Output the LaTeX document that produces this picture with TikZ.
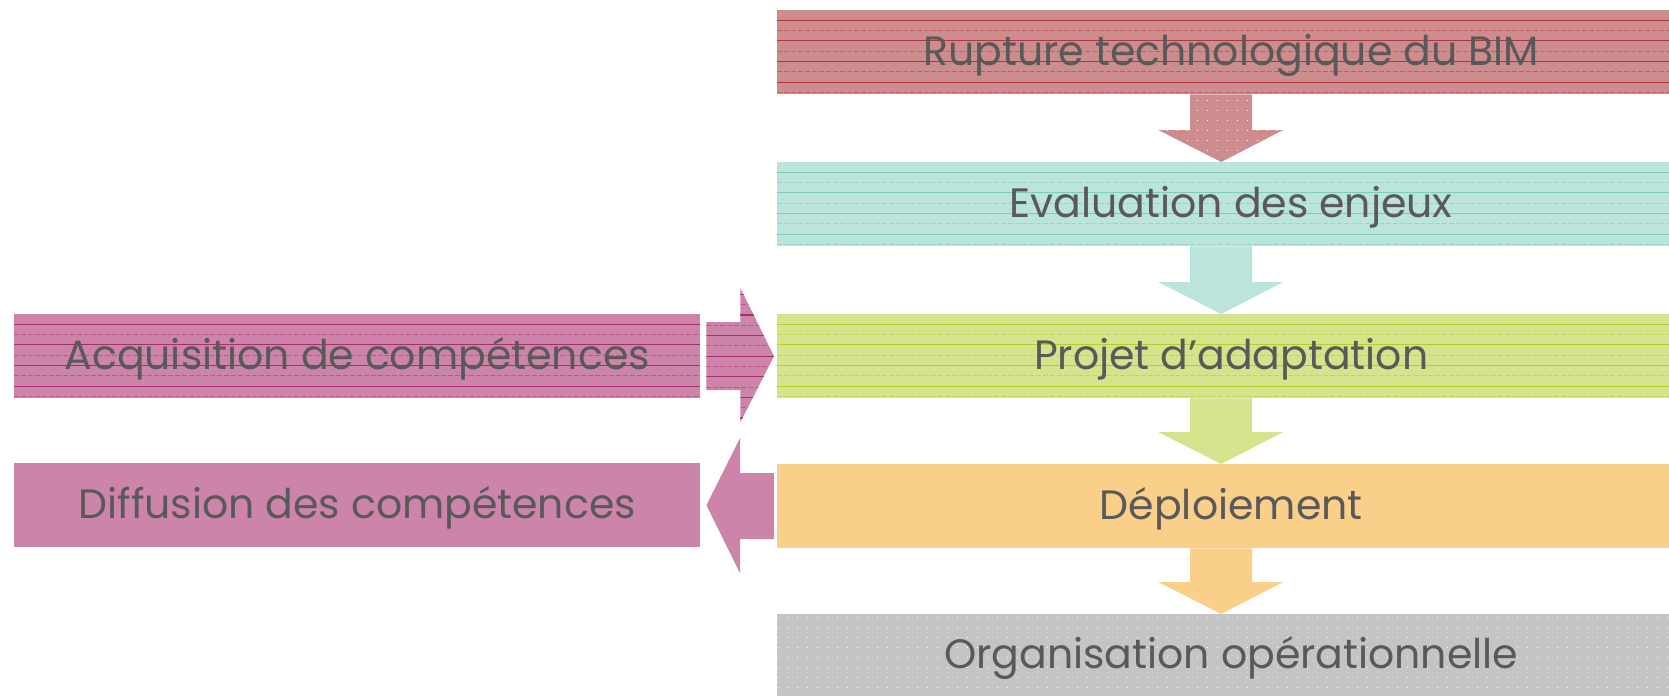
\documentclass[tikz,border=0pt]{standalone}
\usepackage{fontspec}
\setmainfont{Poppins}
\usetikzlibrary{calc}
\definecolor{txt}{HTML}{595959}
\definecolor{redf}{HTML}{CD8C8E}
\definecolor{redl}{HTML}{B23440}
\definecolor{tealf}{HTML}{BAE4DC}
\definecolor{teall}{HTML}{7FCDB9}
\definecolor{limef}{HTML}{D5E38C}
\definecolor{limel}{HTML}{B3CE28}
\definecolor{orf}{HTML}{F9CF8A}
\definecolor{grf}{HTML}{C4C4C4}
\definecolor{pinkf}{HTML}{CD84AA}
\definecolor{pinkl}{HTML}{A82E6C}
\tikzset{
  stagebox/.style={fill=#1, draw=none, minimum height=84pt, inner sep=0pt, anchor=north west},
  rightbox/.style={stagebox=#1, minimum width=892pt},
  leftbox/.style={stagebox=#1, minimum width=686pt},
  label text/.style={text=txt, font=\fontsize{41}{46}\selectfont},
  hline/.style={#1, line width=1.1pt},
  dline/.style={#1!80, line width=1.1pt, dash pattern=on 5pt off 2pt},
  dotrow/.style={white, line width=0.8pt, dash pattern=on 1pt off 9pt},
}
% horizontal line hatching inside a node
\newcommand{\hatchnode}[2]{%
  \begin{scope}
    \clip (#1.north west) rectangle (#1.south east);
    \foreach \k in {1,...,8}{
      \ifodd\k
        \draw[hline=#2] ($(#1.north west)+(0,10.3*\k)$) -- ($(#1.north east)+(0,10.3*\k)$);
      \else
        \draw[dline=#2] ($(#1.north west)+(0,10.3*\k)$) -- ($(#1.north east)+(0,10.3*\k)$);
      \fi
    }
  \end{scope}}
% outline of a block arrow pointing down from node a to node b
\newcommand{\downpath}[2]{($(#1.south)+(-33,0)$) -- ($(#1.south)+(29,0)$) -- ($(#2.north)+(29,-32)$)
    -- ($(#2.north)+(60,-32)$) -- ($(#2.north)+(-2,0)$) -- ($(#2.north)+(-65,-32)$)
    -- ($(#2.north)+(-33,-32)$) -- cycle}
\newcommand{\downblock}[3]{\fill[#3] \downpath{#1}{#2};}
\begin{document}
\begin{tikzpicture}[x=1pt,y=-1pt]
\useasboundingbox (0,0) rectangle (1669,696);
% right column
\node[rightbox=redf]   (r1) at (777,10)  {};
\node[rightbox=tealf]  (r2) at (777,162) {};
\node[rightbox=limef]  (r3) at (777,314) {};
\node[rightbox=orf]    (r4) at (777,464) {};
\node[rightbox=grf, minimum height=82pt] (r5) at (777,614) {};
% left column
\node[leftbox=pinkf] (l1) at (14,314) {};
\node[leftbox=pinkf] (l2) at (14,463) {};
\hatchnode{r1}{redl}
\hatchnode{r2}{teall}
\hatchnode{r3}{limel}
\hatchnode{l1}{pinkl}
% dots on grey box
\begin{scope}
  \clip (r5.north west) rectangle (r5.south east);
  \foreach \j in {0,...,8}{
    \draw[dotrow] ($(r5.north west)+(0,3+10*\j)$) -- ($(r5.north east)+(0,3+10*\j)$);
  }
\end{scope}
% down arrows
\downblock{r1}{r2}{redf}
\downblock{r2}{r3}{tealf}
\downblock{r3}{r4}{limef}
\downblock{r4}{r5}{orf}
% dots on red arrow
\begin{scope}
  \clip \downpath{r1}{r2};
  \foreach \j in {0,...,6}{
    \draw[dotrow] ($(r1.south west)+(0,6+10*\j)$) -- ($(r1.south east)+(0,6+10*\j)$);
  }
\end{scope}
% right arrow l1 -> r3
\fill[pinkf] ($(l1.east)+(6,-34)$) -- ($(l1.east)+(40,-34)$) -- ($(l1.east)+(40,-68)$)
  -- ($(r3.west)+(-3,0)$) -- ($(l1.east)+(40,66)$) -- ($(l1.east)+(40,34)$)
  -- ($(l1.east)+(6,34)$) -- cycle;
\begin{scope}
  \clip ($(l1.east)+(6,-34)$) -- ($(l1.east)+(40,-34)$) -- ($(l1.east)+(40,-68)$)
  -- ($(r3.west)+(-3,0)$) -- ($(l1.east)+(40,66)$) -- ($(l1.east)+(40,34)$)
  -- ($(l1.east)+(6,34)$) -- cycle;
  \foreach \k in {-6,...,6}{
    \ifodd\k
      \draw[dline=pinkl] ($(l1.east)+(6,10.3*\k)$) -- ($(r3.west)+(0,10.3*\k)$);
    \else
      \draw[hline=pinkl] ($(l1.east)+(6,10.3*\k)$) -- ($(r3.west)+(0,10.3*\k)$);
    \fi
  }
\end{scope}
% left arrow r4 -> l2
\fill[pinkf] ($(r4.west)+(-3,-33)$) -- ($(r4.west)+(-37,-33)$) -- ($(r4.west)+(-37,-68)$)
  -- ($(l2.east)+(6,0)$) -- ($(r4.west)+(-37,67)$) -- ($(r4.west)+(-37,33)$)
  -- ($(r4.west)+(-3,33)$) -- cycle;
% texts
\node[label text] at ($(r1.center)+(8,3)$) {Rupture technologique du BIM};
\node[label text] at ($(r2.center)+(8,3)$) {Evaluation des enjeux};
\node[label text] at ($(r3.center)+(8,3)$) {Projet d’adaptation};
\node[label text] at ($(r4.center)+(8,3)$) {Déploiement};
\node[label text] at ($(r5.center)+(8,3)$) {Organisation opérationnelle};
\node[label text] at ($(l1.center)+(0,3)$) {Acquisition de compétences};
\node[label text] at ($(l2.center)+(0,3)$) {Diffusion des compétences};
\end{tikzpicture}
\end{document}
